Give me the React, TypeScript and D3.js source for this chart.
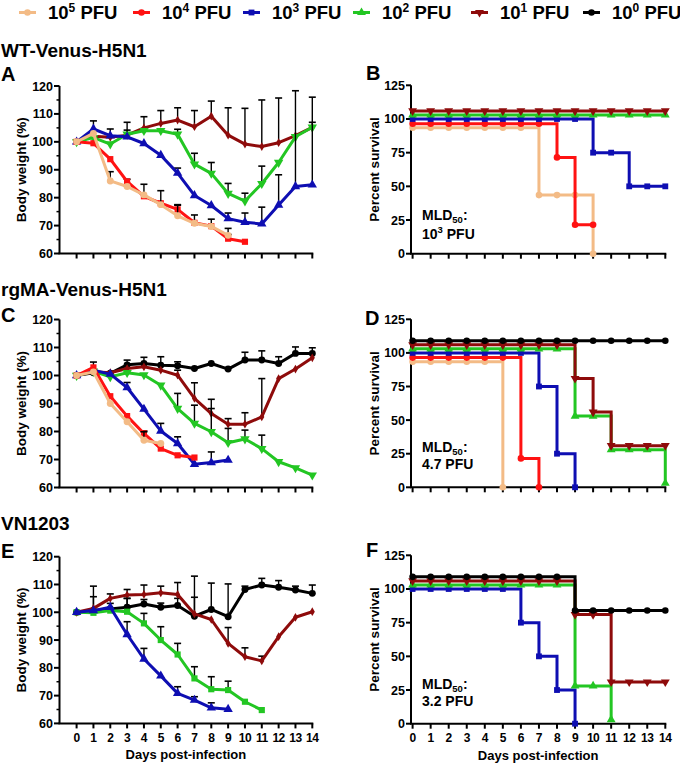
import React from "react";
import * as d3 from "d3";

// ---------- categories ----------
const DOSE_EXP = ["5", "4", "3", "2", "1", "0"];
const COLORS = ["#F3BB86", "#FF1212", "#0E0EB2", "#23C623", "#8E0B0B", "#000000"];
const DAY_TICKS = d3.range(0, 15);
const WEIGHT_TICKS = [60, 70, 80, 90, 100, 110, 120];
const WEIGHT_MINOR = [65, 75, 85, 95, 105, 115];
const SURV_TICKS = [0, 25, 50, 75, 100, 125];
const SURV_OFFSET = [-6.5, -3.5, 0, 3, 6, 9];

// ---------- A: WT-Venus-H5N1 body weight ----------
const wtW5 = [100, 103, 86, 84, 81, 77.5, 73.5, 70.8, 69.7, 66.5];
const wtE5 = [0, 0, 3.3, 0, 3.8, 5, 4, 3, 2.6, 2.5];
const wtW4 = [100, 99.5, 93.8, 85.8, 80.5, 78, 75.8, 71, 69.8, 65.3, 64.2];
const wtE4 = [0, 0, 0, 0.8, 0, 0, 1.5, 0, 0, 1.5, 0];
const wtW3 = [100, 104.6, 102.2, 101.8, 99.4, 95.2, 88.8, 80.8, 77.2, 72.5, 71.2, 70.6, 77.4, 84, 84.6];
const wtE3 = [0, 2.9, 2.4, 0, 0, 0, 1.8, 0, 0, 2, 3.3, 6, 10.8, 34.3, 31.4];
const wtW2 = [100, 101.5, 99.2, 102.7, 104, 104, 102.7, 92, 88.7, 81.5, 78.8, 85, 92.6, 101.8, 105.2];
const wtE2 = [0, 0, 0, 1.5, 0, 0, 1.8, 3.9, 3.9, 3.6, 2.8, 6.3, 0, 0, 1.8];
const wtW1 = [100, 102, 101.6, 102.4, 105, 106.6, 107.8, 105.4, 109.2, 102.4, 99.2, 98.3, 99.7, 102.2, 105.2];
const wtE1 = [0, 0, 0, 4.6, 4, 4.6, 4.4, 5.8, 5.4, 9.8, 12.8, 16.7, 16, 0, 0];

// ---------- B: WT-Venus-H5N1 survival ----------
const wtS5 = [100, 100, 100, 100, 100, 100, 100, 50, 50, 50, 0];
const wtS4 = [100, 100, 100, 100, 100, 100, 100, 100, 75, 25, 25];
const wtS3 = [100, 100, 100, 100, 100, 100, 100, 100, 100, 100, 75, 75, 50, 50, 50];
const wtS2 = [100, 100, 100, 100, 100, 100, 100, 100, 100, 100, 100, 100, 100, 100, 100];
const wtS1 = [100, 100, 100, 100, 100, 100, 100, 100, 100, 100, 100, 100, 100, 100, 100];

// ---------- C: rgMA-Venus-H5N1 body weight ----------
const rgW5 = [100, 101.3, 90, 83.5, 76.9, 75.7];
const rgE5 = [0, 0, 0, 0, 3, 0];
const rgW4 = [100, 102.9, 92.6, 85.5, 79.3, 73.9, 71.5, 70.7];
const rgE4 = [0, 1.9, 0, 0, 0.9, 0, 0, 0];
const rgW3 = [100, 101.9, 100.5, 95.7, 88, 80.2, 75.7, 68.3, 68.9, 69.8];
const rgE3 = [0, 0, 0, 1.8, 0, 2.7, 2.4, 0, 3.8, 0];
const rgW2 = [100, 101.5, 99.5, 101, 100.2, 96.5, 88.2, 82.9, 79.9, 76, 77.3, 73.9, 69.2, 67, 64.4];
const rgE2 = [0, 0, 0, 0, 0, 0, 5.4, 6.5, 8.3, 5.1, 3.2, 4.8, 0, 0, 0];
const rgW1 = [100, 101.3, 101, 102.5, 103.1, 101.9, 100.1, 91.8, 86.4, 82.6, 82.6, 85.2, 98.9, 102.3, 106.3];
const rgE1 = [0, 0, 0, 0, 0, 0, 1.8, 5.6, 5.1, 2, 4.1, 13.7, 0, 0, 0];
const rgW0 = [100, 101, 100.8, 103.8, 104.3, 103.7, 103.5, 102.5, 104.3, 102.3, 105.5, 105.5, 104.3, 107.9, 107.9];
const rgE0 = [0, 0, 0, 1.7, 2.2, 3, 1.4, 0, 0, 0, 2.8, 3.3, 2.4, 2.3, 2];

// ---------- D: rgMA-Venus-H5N1 survival ----------
const rgS5 = [100, 100, 100, 100, 100, 0];
const rgS4 = [100, 100, 100, 100, 100, 100, 25, 0];
const rgS3 = [100, 100, 100, 100, 100, 100, 100, 75, 25, 0];
const rgS2 = [100, 100, 100, 100, 100, 100, 100, 100, 100, 50, 50, 25, 25, 25, 0];
const rgS1 = [100, 100, 100, 100, 100, 100, 100, 100, 100, 75, 50, 25, 25, 25, 25];
const rgS0 = [100, 100, 100, 100, 100, 100, 100, 100, 100, 100, 100, 100, 100, 100, 100];

// ---------- E: VN1203 body weight ----------
const vnW3 = [100, 100.6, 101.8, 92, 83.2, 77.1, 70.8, 68.4, 65.6, 65.1];
const vnE3 = [0, 0, 0, 4.6, 3.8, 0, 2.4, 1.2, 1.8, 0];
const vnW2 = [100, 99.8, 100.6, 100.2, 96, 90, 84.8, 76.2, 72.3, 72, 67.8, 64.8];
const vnE2 = [0, 0, 0, 4.8, 3.6, 4.8, 4, 4.2, 4.5, 3.2, 0, 0];
const vnW1 = [100, 101.4, 105, 106.2, 106.4, 107, 106.4, 99.4, 97.4, 88.8, 84, 82.5, 91.2, 98.2, 100.2];
const vnE1 = [0, 8, 1.6, 2, 3.4, 2.4, 4.3, 6, 0, 5.7, 3.2, 1.7, 0, 0, 0];
const vnW0 = [100, 100.6, 101.2, 101.8, 103, 101.8, 102.4, 98.6, 101, 98.4, 108.2, 109.8, 109, 108, 106.8];
const vnE0 = [0, 5, 2, 3.2, 1.6, 1.5, 2.6, 14.4, 9.5, 11.8, 1.2, 2.4, 2.4, 1.4, 3];

// ---------- F: VN1203 survival ----------
const vnS3 = [100, 100, 100, 100, 100, 100, 75, 50, 25, 0];
const vnS2 = [100, 100, 100, 100, 100, 100, 100, 100, 100, 25, 25, 0];
const vnS1 = [100, 100, 100, 100, 100, 100, 100, 100, 100, 75, 75, 25, 25, 25, 25];
const vnS0 = [100, 100, 100, 100, 100, 100, 100, 100, 100, 75, 75, 75, 75, 75, 75];

const FONT = "'Liberation Sans', Arial, Helvetica, sans-serif";

type SymName = "circle" | "square" | "tri" | "triDown" | "diamond";
const symGen = (name: SymName, size: number) => {
  const t =
    name === "circle" ? d3.symbolCircle :
    name === "square" ? d3.symbolSquare :
    name === "diamond" ? d3.symbolDiamond : d3.symbolTriangle;
  return d3.symbol(t, size)() as string;
};

function Marker({ x, y, name, color, size }: { x: number; y: number; name: SymName; color: string; size: number }) {
  return (
    <path
      d={symGen(name, size)}
      transform={`translate(${x},${y})${name === "triDown" ? " rotate(180)" : ""}`}
      fill={color}
    />
  );
}

type WSeries = { idx: number; values: number[]; errs: number[]; sym: SymName };
type SSeries = { idx: number; values: number[]; sym: SymName };

const WX = d3.scaleLinear().domain([0, 14]).range([76.6, 312.3]);
const SX = d3.scaleLinear().domain([0, 14]).range([412.6, 665.3]);

function WeightPanel({ top, bottom, series, xLabels }: { top: number; bottom: number; series: WSeries[]; xLabels: boolean }) {
  const y = d3.scaleLinear().domain([60, 120]).range([bottom, top]);
  const axisX = 59.5;
  const line = d3.line<number>().x((_, i) => WX(i)).y((d) => y(d));
  return (
    <g>
      <line x1={axisX} x2={axisX} y1={top} y2={bottom} stroke="#000" strokeWidth={2} />
      <line x1={axisX - 1} x2={WX(14) + 1} y1={bottom} y2={bottom} stroke="#000" strokeWidth={2} />
      {WEIGHT_TICKS.map((t) => (
        <g key={t}>
          <line x1={axisX - 5.5} x2={axisX} y1={y(t)} y2={y(t)} stroke="#000" strokeWidth={2} />
          <text x={axisX - 6.5} y={y(t)} dy="0.36em" textAnchor="end" fontSize={12.5} fontWeight="bold" fontFamily={FONT}>{t}</text>
        </g>
      ))}
      {WEIGHT_MINOR.map((t) => (
        <line key={t} x1={axisX - 3} x2={axisX} y1={y(t)} y2={y(t)} stroke="#000" strokeWidth={1.5} />
      ))}
      {DAY_TICKS.map((d) => (
        <g key={d}>
          <line x1={WX(d)} x2={WX(d)} y1={bottom} y2={bottom + 5} stroke="#000" strokeWidth={2} />
          {xLabels && (
            <text x={WX(d)} y={bottom + 18.5} textAnchor="middle" fontSize={12} letterSpacing={-0.5} fontWeight="bold" fontFamily={FONT}>{d}</text>
          )}
        </g>
      ))}
      <text transform={`translate(21,${(top + bottom) / 2}) rotate(-90)`} textAnchor="middle" dy="0.36em" fontSize={13.5} fontWeight="bold" fontFamily={FONT}>Body weight (%)</text>
      {xLabels && (
        <text x={(axisX + WX(14)) / 2} y={bottom + 36} textAnchor="middle" fontSize={13} fontWeight="bold" fontFamily={FONT}>Days post-infection</text>
      )}
      {series.map((s) => (
        <g key={s.idx}>
          {s.values.map((v, i) =>
            s.errs[i] > 0 ? (
              <g key={i}>
                <line x1={WX(i)} x2={WX(i)} y1={y(v)} y2={y(v + s.errs[i])} stroke="#000" strokeWidth={1.4} />
                <line x1={WX(i) - 3.5} x2={WX(i) + 3.5} y1={y(v + s.errs[i])} y2={y(v + s.errs[i])} stroke="#000" strokeWidth={1.6} />
              </g>
            ) : null
          )}
          <path d={line(s.values) as string} fill="none" stroke={COLORS[s.idx]} strokeWidth={3} strokeLinejoin="round" />
          {s.values.map((v, i) => (
            <Marker key={i} x={WX(i)} y={y(v)} name={s.sym} color={COLORS[s.idx]} size={s.sym === "diamond" ? 22 : 38} />
          ))}
        </g>
      ))}
    </g>
  );
}

function SurvivalPanel({ top, bottom, series, xLabels, mld }: { top: number; bottom: number; series: SSeries[]; xLabels: boolean; mld: React.ReactNode }) {
  const y = d3.scaleLinear().domain([0, 125]).range([bottom, top]);
  const axisX = 411;
  return (
    <g>
      <line x1={axisX} x2={axisX} y1={top} y2={bottom} stroke="#000" strokeWidth={2} />
      <line x1={axisX - 1} x2={SX(14) + 1} y1={bottom} y2={bottom} stroke="#000" strokeWidth={2} />
      {SURV_TICKS.map((t) => (
        <g key={t}>
          <line x1={axisX - 5} x2={axisX} y1={y(t)} y2={y(t)} stroke="#000" strokeWidth={2} />
          <text x={axisX - 6} y={y(t)} dy="0.36em" textAnchor="end" fontSize={12.5} fontWeight="bold" fontFamily={FONT}>{t}</text>
        </g>
      ))}
      {DAY_TICKS.map((d) => (
        <g key={d}>
          <line x1={SX(d)} x2={SX(d)} y1={bottom} y2={bottom + 5} stroke="#000" strokeWidth={2} />
          {xLabels && (
            <text x={SX(d)} y={bottom + 18} textAnchor="middle" fontSize={12} letterSpacing={-0.5} fontWeight="bold" fontFamily={FONT}>{d}</text>
          )}
        </g>
      ))}
      <text transform={`translate(374,${(top + bottom) / 2}) rotate(-90)`} textAnchor="middle" dy="0.36em" fontSize={13.5} fontWeight="bold" fontFamily={FONT}>Percent survival</text>
      {xLabels && (
        <text x={(axisX + SX(14)) / 2} y={bottom + 36} textAnchor="middle" fontSize={13} fontWeight="bold" fontFamily={FONT}>Days post-infection</text>
      )}
      {series.map((s) => {
        const disp = s.values.map((v) => Math.max(0, v + SURV_OFFSET[s.idx]));
        const line = d3.line<number>().x((_, i) => SX(i)).y((d) => y(d)).curve(d3.curveStepAfter);
        return (
          <g key={s.idx}>
            <path d={line(disp) as string} fill="none" stroke={COLORS[s.idx]} strokeWidth={3} />
            {disp.map((v, i) => (
              <Marker key={i} x={SX(i)} y={y(v)} name={s.sym} color={COLORS[s.idx]} size={34} />
            ))}
          </g>
        );
      })}
      {mld}
    </g>
  );
}

function Mld({ x, y1, y2, line2 }: { x: number; y1: number; y2: number; line2: React.ReactNode }) {
  return (
    <g fontFamily={FONT} fontWeight="bold" fontSize={14}>
      <text x={x} y={y1}>
        MLD<tspan dy={3} fontSize={9.5}>50</tspan><tspan dy={-3}>:</tspan>
      </text>
      <text x={x} y={y2}>{line2}</text>
    </g>
  );
}

const LEGEND_TEXT_X = [48, 162, 272, 382, 500, 612];
const LEGEND_SYM: SymName[] = ["circle", "circle", "square", "tri", "triDown", "circle"];

export default function App() {
  const rows = [
    { wt: 86, wb: 253.5, st: 85.3, sb: 253.7 },
    { wt: 319.5, wb: 487.5, st: 319.3, sb: 487.3 },
    { wt: 556.7, wb: 723.4, st: 555.3, sb: 723.7 },
  ];
  return (
    <div style={{ position: "absolute", left: 0, top: 0 }}>
      <svg width={680} height={765} style={{ display: "block", background: "#fff" }}>
        {DOSE_EXP.map((e, i) => {
          const tx = LEGEND_TEXT_X[i];
          return (
            <g key={e}>
              <line x1={tx - 29} x2={tx - 12} y1={12.5} y2={12.5} stroke={COLORS[i]} strokeWidth={3} />
              <Marker x={tx - 20.5} y={12.5} name={LEGEND_SYM[i]} color={COLORS[i]} size={34} />
              <text x={tx} y={18.5} fontSize={18.5} fontWeight="bold" fontFamily={FONT}>
                10<tspan dy={-7} fontSize={12}>{e}</tspan><tspan dy={7}> PFU</tspan>
              </text>
            </g>
          );
        })}
        <g fontFamily={FONT} fontWeight="bold">
          <text x={1} y={57} fontSize={19}>WT-Venus-H5N1</text>
          <text x={1} y={81} fontSize={20}>A</text>
          <text x={366} y={80} fontSize={20}>B</text>
          <text x={1} y={296} fontSize={19}>rgMA-Venus-H5N1</text>
          <text x={1} y={322} fontSize={20}>C</text>
          <text x={365} y={325} fontSize={20}>D</text>
          <text x={1} y={530} fontSize={19}>VN1203</text>
          <text x={1} y={558} fontSize={20}>E</text>
          <text x={366} y={557} fontSize={20}>F</text>
        </g>

        <WeightPanel
          top={rows[0].wt}
          bottom={rows[0].wb}
          xLabels={false}
          series={[
            { idx: 4, values: wtW1, errs: wtE1, sym: "diamond" },
            { idx: 3, values: wtW2, errs: wtE2, sym: "triDown" },
            { idx: 2, values: wtW3, errs: wtE3, sym: "tri" },
            { idx: 1, values: wtW4, errs: wtE4, sym: "square" },
            { idx: 0, values: wtW5, errs: wtE5, sym: "circle" },
          ]}
        />
        <SurvivalPanel
          top={rows[0].st}
          bottom={rows[0].sb}
          xLabels={false}
          series={[
            { idx: 0, values: wtS5, sym: "circle" },
            { idx: 1, values: wtS4, sym: "circle" },
            { idx: 2, values: wtS3, sym: "square" },
            { idx: 3, values: wtS2, sym: "tri" },
            { idx: 4, values: wtS1, sym: "triDown" },
          ]}
          mld={<Mld x={422} y1={219.5} y2={238.5} line2={<>10<tspan dy={-6} fontSize={9.5}>3</tspan><tspan dy={6}> PFU</tspan></>} />}
        />

        <WeightPanel
          top={rows[1].wt}
          bottom={rows[1].wb}
          xLabels={false}
          series={[
            { idx: 5, values: rgW0, errs: rgE0, sym: "circle" },
            { idx: 4, values: rgW1, errs: rgE1, sym: "diamond" },
            { idx: 3, values: rgW2, errs: rgE2, sym: "triDown" },
            { idx: 2, values: rgW3, errs: rgE3, sym: "tri" },
            { idx: 1, values: rgW4, errs: rgE4, sym: "square" },
            { idx: 0, values: rgW5, errs: rgE5, sym: "circle" },
          ]}
        />
        <SurvivalPanel
          top={rows[1].st}
          bottom={rows[1].sb}
          xLabels={false}
          series={[
            { idx: 0, values: rgS5, sym: "circle" },
            { idx: 1, values: rgS4, sym: "circle" },
            { idx: 2, values: rgS3, sym: "square" },
            { idx: 3, values: rgS2, sym: "tri" },
            { idx: 4, values: rgS1, sym: "triDown" },
            { idx: 5, values: rgS0, sym: "circle" },
          ]}
          mld={<Mld x={422} y1={451.5} y2={469} line2={<>4.7 PFU</>} />}
        />

        <WeightPanel
          top={rows[2].wt}
          bottom={rows[2].wb}
          xLabels={true}
          series={[
            { idx: 5, values: vnW0, errs: vnE0, sym: "circle" },
            { idx: 4, values: vnW1, errs: vnE1, sym: "diamond" },
            { idx: 3, values: vnW2, errs: vnE2, sym: "square" },
            { idx: 2, values: vnW3, errs: vnE3, sym: "tri" },
          ]}
        />
        <SurvivalPanel
          top={rows[2].st}
          bottom={rows[2].sb}
          xLabels={true}
          series={[
            { idx: 2, values: vnS3, sym: "square" },
            { idx: 3, values: vnS2, sym: "tri" },
            { idx: 4, values: vnS1, sym: "triDown" },
            { idx: 5, values: vnS0, sym: "circle" },
          ]}
          mld={<Mld x={422} y1={688.5} y2={706} line2={<>3.2 PFU</>} />}
        />
      </svg>
    </div>
  );
}
